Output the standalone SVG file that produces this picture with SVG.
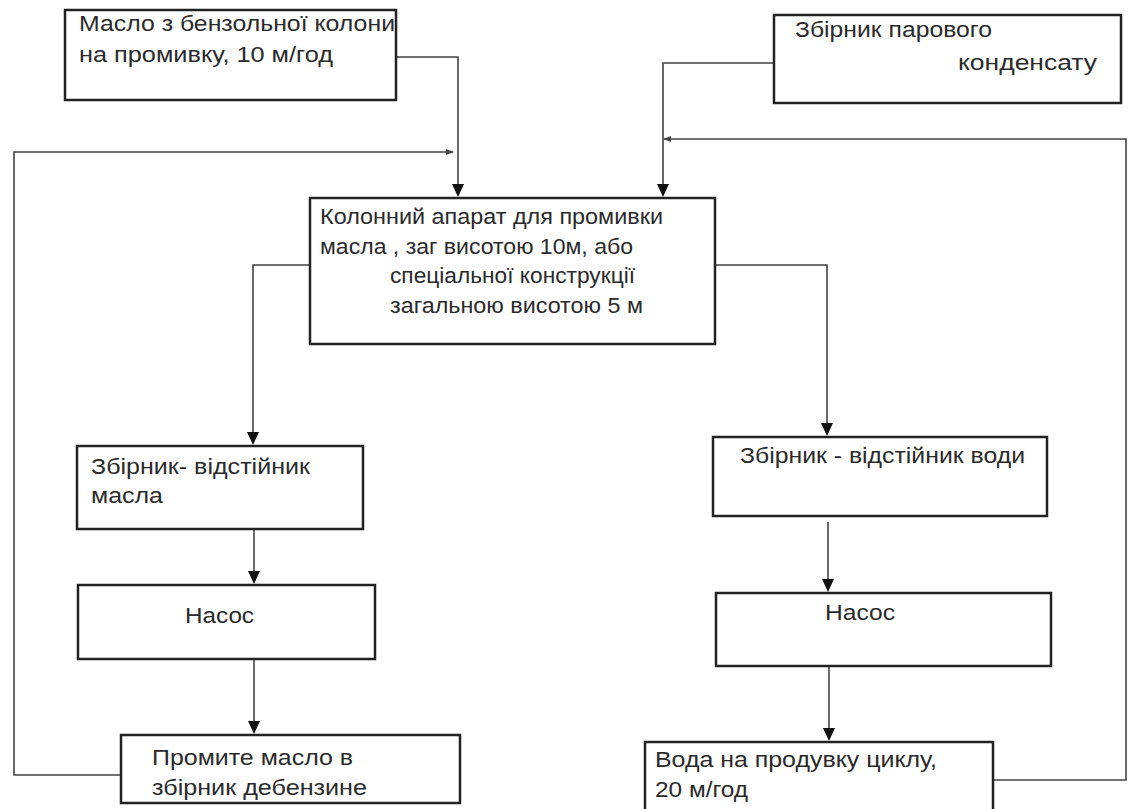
<svg xmlns="http://www.w3.org/2000/svg" width="1128" height="809" viewBox="0 0 1128 809">
<style>
.box{fill:#fff;stroke:#222;stroke-width:2.5}
.t{font-family:"Liberation Sans",Arial,sans-serif;font-size:22px;fill:#2a2a2a}
.c{fill:none;stroke:#444;stroke-width:1.6}
.ah{fill:#111}
</style>
<defs>
<marker id="sm" markerUnits="userSpaceOnUse" markerWidth="8" markerHeight="8" refX="7" refY="4" orient="auto" viewBox="0 0 8 8">
<path d="M0,1 L8,4 L0,7 Z" fill="#444"/>
</marker>
</defs>
<rect width="1128" height="809" fill="#fff"/>
<g id="connectors">
<path class="c" d="M121,775 H14 V152 H453" marker-end="url(#sm)"/>
<path class="c" d="M993,780 H1126 V139 H664" marker-end="url(#sm)"/>
<path class="c" d="M396,57 H458 V186"/>
<path class="ah" d="M452,184 L464,184 L458,197 Z"/>
<path class="c" d="M774,63 H663 V186"/>
<path class="ah" d="M657,184 L669,184 L663,197 Z"/>
<path class="c" d="M310,265 H253 V434"/>
<path class="ah" d="M247,432 L259,432 L253,445 Z"/>
<path class="c" d="M715,265 H827 V425"/>
<path class="ah" d="M821,423 L833,423 L827,436 Z"/>
<path class="c" d="M254,529 V573"/>
<path class="ah" d="M248,571 L260,571 L254,584 Z"/>
<path class="c" d="M254,659 V723"/>
<path class="ah" d="M248,721 L260,721 L254,734 Z"/>
<path class="c" d="M828,522 V581"/>
<path class="ah" d="M822,579 L834,579 L828,592 Z"/>
<path class="c" d="M829,666 V730"/>
<path class="ah" d="M823,728 L835,728 L829,741 Z"/>
</g>
<g id="n1">
<rect class="box" x="65" y="10" width="331" height="90"/>
<text class="t" x="79" y="31" textLength="316" lengthAdjust="spacingAndGlyphs">Масло з бензольної колони</text>
<text class="t" x="79" y="62" textLength="254" lengthAdjust="spacingAndGlyphs">на промивку, 10 м/год</text>
</g>
<g id="n2">
<rect class="box" x="774" y="15" width="347" height="88"/>
<text class="t" x="795" y="37" textLength="197" lengthAdjust="spacingAndGlyphs">Збірник парового</text>
<text class="t" x="958" y="70" textLength="139" lengthAdjust="spacingAndGlyphs">конденсату</text>
</g>
<g id="n3">
<rect class="box" x="310" y="198" width="405" height="146"/>
<text class="t" x="320" y="224" textLength="343" lengthAdjust="spacingAndGlyphs">Колонний апарат для промивки</text>
<text class="t" x="320" y="254" textLength="313" lengthAdjust="spacingAndGlyphs">масла , заг висотою 10м, або</text>
<text class="t" x="390" y="283" textLength="245" lengthAdjust="spacingAndGlyphs">спеціальної конструкції</text>
<text class="t" x="390" y="313" textLength="253" lengthAdjust="spacingAndGlyphs">загальною висотою 5 м</text>
</g>
<g id="n4">
<rect class="box" x="77" y="446" width="286" height="83"/>
<text class="t" x="91" y="474" textLength="219" lengthAdjust="spacingAndGlyphs">Збірник- відстійник</text>
<text class="t" x="91" y="503" textLength="72" lengthAdjust="spacingAndGlyphs">масла</text>
</g>
<g id="n5">
<rect class="box" x="78" y="585" width="297" height="74"/>
<text class="t" x="185" y="623" textLength="69" lengthAdjust="spacingAndGlyphs">Насос</text>
</g>
<g id="n6">
<rect class="box" x="121" y="735" width="339" height="68"/>
<text class="t" x="152" y="765" textLength="201" lengthAdjust="spacingAndGlyphs">Промите масло в</text>
<text class="t" x="152" y="795" textLength="215" lengthAdjust="spacingAndGlyphs">збірник дебензине</text>
</g>
<g id="n7">
<rect class="box" x="713" y="437" width="334" height="79"/>
<text class="t" x="740" y="463" textLength="285" lengthAdjust="spacingAndGlyphs">Збірник - відстійник води</text>
</g>
<g id="n8">
<rect class="box" x="716" y="593" width="335" height="73"/>
<text class="t" x="825" y="620" textLength="70" lengthAdjust="spacingAndGlyphs">Насос</text>
</g>
<g id="n9">
<rect class="box" x="645" y="742" width="348" height="80"/>
<text class="t" x="655" y="767" textLength="282" lengthAdjust="spacingAndGlyphs">Вода на продувку циклу,</text>
<text class="t" x="655" y="797" textLength="93" lengthAdjust="spacingAndGlyphs">20 м/год</text>
</g>
</svg>
